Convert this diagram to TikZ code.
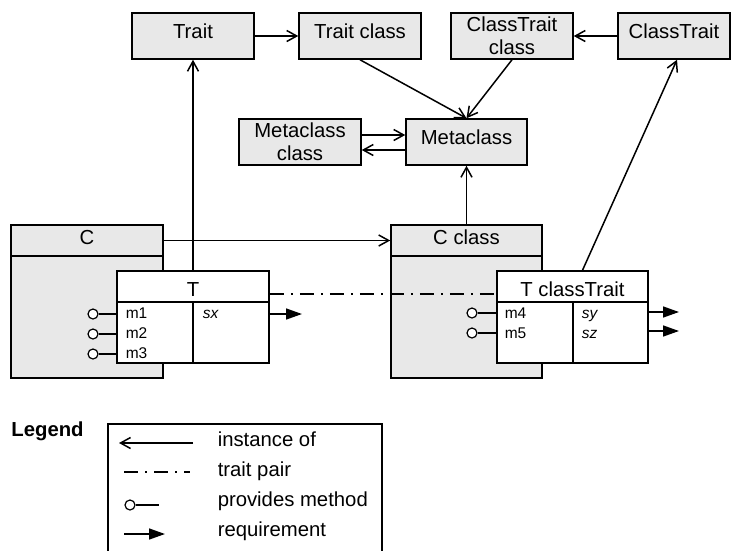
\documentclass[tikz,border=0pt]{standalone}
\usepackage{fontspec}
\setmainfont{Liberation Sans}
\usetikzlibrary{arrows.meta}
\definecolor{boxgray}{RGB}{232,232,232}
\tikzset{
  box/.style={draw, fill=boxgray, inner sep=0pt, align=center,
    font=\fontsize{20.3}{23}\selectfont},
  onebox/.style={box, text height=14.5pt, text depth=10.5pt},
  chd/.style={box, text height=14.5pt, text depth=7.5pt},
  thd/.style={box, fill=white, text height=19.5pt, text depth=0pt},
  comp/.style={draw, fill=white, inner sep=0pt},
  small/.style={font=\fontsize{15.5}{18}\selectfont, inner sep=0pt, anchor=base west},
  legtext/.style={font=\fontsize{20.3}{23}\selectfont, inner sep=0pt, anchor=base west},
  port/.style={circle, draw, fill=white, inner sep=0pt, minimum size=10pt, line width=1.2pt},
  inst/.style={-{Straight Barb[length=10pt,width=11pt]}},
  req/.style={-{Triangle[length=16pt,width=11pt]}},
  pair/.style={dash pattern=on 14pt off 7pt on 2pt off 7pt},
}
\begin{document}
\begin{tikzpicture}[x=1pt,y=-1pt,line width=1.5pt]
\clip (0,0) rectangle (731,550);
\fill[white] (0,0) rectangle (731,550);

% meta level
\node[onebox, minimum width=122pt, minimum height=46pt] (trait) at (193,36) {Trait};
\node[onebox, minimum width=122pt, minimum height=46pt] (traitcls) at (360,36) {Trait class};
\node[box, minimum width=122pt, minimum height=46pt] (ctcls) at (512,36) {ClassTrait\\class};
\node[onebox, minimum width=112pt, minimum height=46pt] (classtrait) at (674,36) {ClassTrait};
\node[box, minimum width=122pt, minimum height=46pt] (metacls) at (300,142) {Metaclass\\class};
\node[onebox, minimum width=121pt, minimum height=46pt] (meta) at (466.5,142) {Metaclass};

% classes
\node[chd, minimum width=152pt, minimum height=31pt] (chead) at (87,240.5) {C};
\node[box, minimum width=152pt, minimum height=122pt] (cbody) at (87,317) {};
\node[chd, minimum width=151pt, minimum height=31pt] (cchead) at (466.5,240.5) {C class};
\node[box, minimum width=151pt, minimum height=122pt] (ccbody) at (466.5,317) {};

% instance-of links
\draw[inst] (trait) -- (traitcls);
\draw[inst] (classtrait) -- (ctcls);
\draw[inst] (traitcls.south) -- (meta.north);
\draw[inst] (ctcls.south) -- (meta.north);
\draw[inst] ([yshift=7pt]metacls.east) -- ([yshift=7pt]meta.west);
\draw[inst] ([yshift=-8pt]meta.west) -- ([yshift=-8pt]metacls.east);
\draw[inst] (chead) -- (cchead);
\draw[inst] (cchead.north) -- (meta.south);

% traits
\node[thd, minimum width=152pt, minimum height=31pt] (thead) at (193,286.5) {T};
\node[thd, minimum width=151pt, minimum height=31pt] (tchead) at (572.5,286.5) {T classTrait};

\draw[inst] (thead.north) -- (trait.south);
\draw[inst] ([xshift=10pt]tchead.north) -- ([xshift=3pt]classtrait.south);
\draw[pair] ([yshift=-7.5pt]thead.east) -- ([yshift=-7.5pt]tchead.west);

\node[comp, minimum width=76pt, minimum height=61pt] (tleft) at (155,332.5) {};
\node[comp, minimum width=76pt, minimum height=61pt] (tright) at (231,332.5) {};
\node[comp, minimum width=76pt, minimum height=61pt] (tcleft) at (535,332.5) {};
\node[comp, minimum width=75pt, minimum height=61pt] (tcright) at (610.5,332.5) {};

% compartment entries
\node[small] (m1) at (125,318) {m1};
\node[small] (m2) at (125,338) {m2};
\node[small] (m3) at (125,358) {m3};
\node[small] (sx) at (202,318) {\itshape sx};
\node[small] (m4) at (504,318) {m4};
\node[small] (m5) at (504,338) {m5};
\node[small] (sy) at (581,318) {\itshape sy};
\node[small] (sz) at (581,338) {\itshape sz};

% provided methods
\node[port] (p1) at (93,314) {};
\node[port] (p2) at (93,334) {};
\node[port] (p3) at (93,354) {};
\node[port] (p4) at (472,313) {};
\node[port] (p5) at (472,333) {};
\draw (p1) -- (tleft.west |- p1);
\draw (p2) -- (tleft.west |- p2);
\draw (p3) -- (tleft.west |- p3);
\draw (p4) -- (tcleft.west |- p4);
\draw (p5) -- (tcleft.west |- p5);

% requirements
\coordinate (rx) at (302,314);
\coordinate (ry) at (679,312);
\coordinate (rz) at (679,331);
\draw[req] (tright.east |- rx) -- (rx);
\draw[req] (tcright.east |- ry) -- (ry);
\draw[req] (tcright.east |- rz) -- (rz);

% legend
\node[font=\fontsize{20.3}{23}\selectfont\bfseries, inner sep=0pt, anchor=base] (legend) at (47.5,436) {Legend};
\node[draw, fill=white, inner sep=0pt, anchor=north west, minimum width=274pt, minimum height=160pt] (legbox) at (107,423) {};
\coordinate (li1) at (193,443);
\coordinate (li2) at (119,443);
\draw[inst] (li1) -- (li2);
\node[legtext] (lt1) at (217,446) {instance of};
\coordinate (lp1) at (124,472);
\coordinate (lp2) at (190,472);
\draw[pair] (lp1) -- (lp2);
\node[legtext] (lt2) at (217,476) {trait pair};
\node[port] (lport) at (130,505) {};
\coordinate (lpe) at (159,505);
\draw (lport) -- (lpe);
\node[legtext] (lt3) at (217,506) {provides method};
\coordinate (lr1) at (124,534);
\coordinate (lr2) at (165,534);
\draw[req] (lr1) -- (lr2);
\node[legtext] (lt4) at (217,536) {requirement};
\end{tikzpicture}
\end{document}
